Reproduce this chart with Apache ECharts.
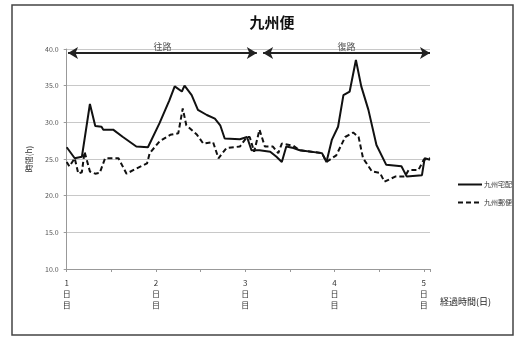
<!DOCTYPE html>
<html>
<head>
<meta charset="utf-8">
<script src="https://cdn.jsdelivr.net/npm/echarts@6/dist/echarts.min.js"></script>
<style>
  html, body { margin: 0; padding: 0; background: #fff; }
  #chart { width: 529px; height: 338px; }
</style>
</head>
<body>
<div id="chart"></div>
<script>
// 九州宅配 (solid) - day position / hours
const takuhaiDays = [1.00, 1.09, 1.17, 1.26, 1.32, 1.39, 1.41, 1.52, 1.63, 1.78, 1.91, 2.04, 2.15, 2.21, 2.29, 2.32, 2.40, 2.47, 2.57, 2.66, 2.72, 2.77, 2.94, 3.02, 3.07, 3.16, 3.28, 3.35, 3.41, 3.46, 3.54, 3.61, 3.86, 3.91, 3.97, 4.04, 4.10, 4.17, 4.24, 4.30, 4.38, 4.47, 4.58, 4.75, 4.81, 4.98, 5.01, 5.07];
const takuhaiHours = [26.6, 25.1, 25.3, 32.5, 29.5, 29.4, 29.0, 29.0, 28.0, 26.7, 26.6, 29.9, 33.0, 34.9, 34.2, 35.0, 33.7, 31.7, 31.0, 30.5, 29.6, 27.8, 27.7, 28.0, 26.2, 26.2, 26.0, 25.3, 24.6, 26.7, 26.5, 26.2, 25.8, 24.6, 27.6, 29.4, 33.7, 34.2, 38.5, 34.9, 31.7, 26.9, 24.2, 24.0, 22.6, 22.8, 25.1, 24.9];

// 九州郵便 (dashed)
const yubinDays = [1.00, 1.03, 1.09, 1.13, 1.17, 1.20, 1.26, 1.32, 1.37, 1.43, 1.58, 1.67, 1.78, 1.90, 1.93, 2.04, 2.16, 2.25, 2.30, 2.34, 2.46, 2.53, 2.64, 2.70, 2.79, 2.94, 3.02, 3.05, 3.10, 3.16, 3.22, 3.31, 3.37, 3.41, 3.54, 3.61, 3.86, 3.91, 4.02, 4.12, 4.21, 4.27, 4.32, 4.42, 4.51, 4.56, 4.68, 4.79, 4.83, 4.94, 5.00, 5.07];
const yubinHours = [24.6, 24.0, 25.1, 23.0, 23.2, 26.0, 23.3, 23.0, 23.1, 25.1, 25.1, 23.0, 23.7, 24.4, 25.8, 27.4, 28.3, 28.5, 31.9, 29.6, 28.3, 27.1, 27.3, 25.1, 26.5, 26.7, 28.0, 28.0, 26.0, 29.0, 26.7, 26.7, 25.8, 27.1, 26.8, 26.2, 25.8, 24.6, 25.5, 28.0, 28.6, 28.0, 25.1, 23.3, 23.1, 21.9, 22.6, 22.6, 23.5, 23.5, 24.9, 25.1];

const seriesNames = ['九州宅配', '九州郵便'];
const dayLabels = ['1', '2', '3', '4', '5'];
const legs = [
  { name: '往路', from: 1.015, to: 3.13 },
  { name: '復路', from: 3.2, to: 5.07 }
];

const font = '"Noto Sans CJK JP", "Noto Sans", sans-serif';
const chart = echarts.init(document.getElementById('chart'));

function pairs(xs, ys) {
  return xs.map((x, i) => [x, ys[i]]);
}

chart.setOption({
  backgroundColor: '#fff',
  animation: false,
  textStyle: { fontFamily: font },
  title: {
    text: '九州便',
    left: 267,
    textAlign: 'center',
    top: 10,
    textStyle: { fontSize: 15, fontWeight: 'bold', color: '#111', fontFamily: font }
  },
  graphic: [
    {
      type: 'rect',
      shape: { x: 12, y: 5, width: 501, height: 330 },
      style: { fill: 'none', stroke: '#444', lineWidth: 1.5 },
      silent: true
    },
    {
      type: 'text',
      left: 440,
      top: 297,
      style: { text: '経過時間(日)', fontSize: 9, fill: '#222', fontFamily: font }
    }
  ],
  legend: {
    orient: 'vertical',
    left: 452,
    top: 176,
    itemWidth: 24,
    itemHeight: 4,
    itemGap: 11,
    itemStyle: { opacity: 0 },
    textStyle: { fontSize: 7, color: '#333', padding: [0, 0, 0, -3] },
    data: seriesNames
  },
  grid: { left: 66.7, top: 49, width: 363.3, height: 220 },
  xAxis: {
    type: 'value',
    min: 1,
    max: 5.07,
    interval: 0.5,
    axisLine: { lineStyle: { color: '#999' } },
    axisTick: { show: true, length: 3, inside: false, lineStyle: { color: '#999' } },
    splitLine: { show: false },
    axisLabel: {
      fontSize: 8,
      color: '#333',
      lineHeight: 11,
      margin: 8,
      formatter: v => {
        const i = dayLabels.indexOf(String(v));
        return i >= 0 ? dayLabels[i] + '\n日\n目' : '';
      }
    }
  },
  yAxis: {
    type: 'value',
    min: 10,
    max: 40,
    interval: 5,
    name: '時間(h)',
    nameLocation: 'middle',
    nameGap: 34,
    nameTextStyle: { fontSize: 8, color: '#333' },
    axisLine: { show: true, lineStyle: { color: '#999' } },
    axisTick: { show: true, length: 3, lineStyle: { color: '#999' } },
    splitLine: { lineStyle: { color: '#c8c8c8', width: 1 } },
    axisLabel: { fontSize: 7, color: '#555', formatter: v => v.toFixed(1), margin: 8 }
  },
  series: [
    {
      name: seriesNames[0],
      type: 'line',
      symbol: 'none',
      data: pairs(takuhaiDays, takuhaiHours),
      lineStyle: { color: '#111', width: 2 },
      itemStyle: { color: '#111' },
      markLine: {
        silent: true,
        symbol: ['arrow', 'arrow'],
        symbolSize: [9, 10],
        lineStyle: { color: '#222', width: 2, type: 'solid' },
        label: {
          show: true,
          position: 'middle',
          formatter: '{b}',
          fontSize: 9,
          color: '#555',
          distance: 2
        },
        data: legs.map(l => [
          { name: l.name, coord: [l.from, 39.45] },
          { name: l.name, coord: [l.to, 39.45] }
        ])
      }
    },
    {
      name: seriesNames[1],
      type: 'line',
      symbol: 'none',
      data: pairs(yubinDays, yubinHours),
      lineStyle: { color: '#111', width: 2, type: [5, 3] },
      itemStyle: { color: '#111' }
    }
  ]
});
</script>
</body>
</html>
